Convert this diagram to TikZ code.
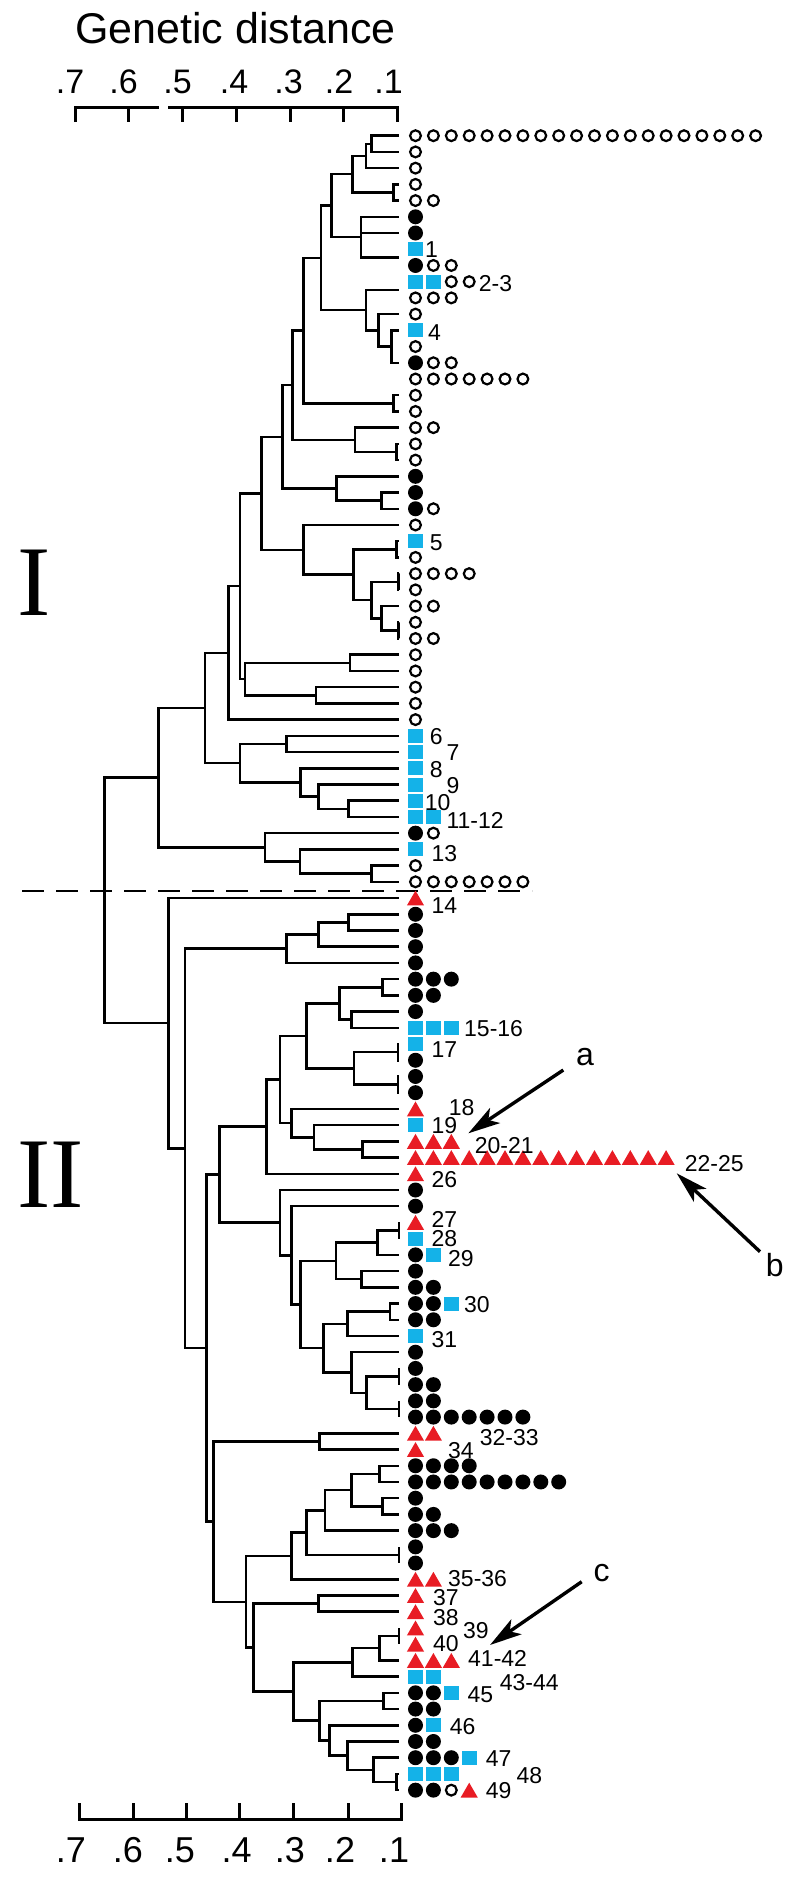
\documentclass[tikz,border=0pt]{standalone}
\usepackage{fontspec}
\setmainfont{Liberation Sans}
\newfontfamily\romanfont{Liberation Serif}
\usetikzlibrary{calc,shapes.geometric,arrows.meta}
\definecolor{tcyan}{RGB}{20,178,232}
\definecolor{tred}{RGB}{232,28,36}
\tikzset{
  tree/.style={line width=2.5pt},
  axisline/.style={line width=3pt},
  oc/.style={circle,draw=black,fill=white,line width=2.2pt,minimum size=10.8pt,inner sep=0pt},
  fc/.style={circle,fill=black,minimum size=15pt,inner sep=0pt},
  sq/.style={rectangle,fill=tcyan,minimum width=14.8pt,minimum height=14pt,inner sep=0pt},
  tr/.style={regular polygon,regular polygon sides=3,fill=tred,minimum size=19.8pt,inner sep=0pt,yshift=-2.45pt},
  lab/.style={anchor=west,inner sep=0pt,font=\fontsize{23}{23}\selectfont},
  letter/.style={inner sep=0pt,font=\fontsize{32}{32}\selectfont},
  ticklab/.style={anchor=base,inner sep=0pt,font=\fontsize{34}{34}\selectfont},
  arr/.style={line width=3.4pt,-{Stealth[length=32pt,width=18pt,inset=8pt]}}
}
\newcommand\dnode[4]{%
  \path let \p1=($(#3)!0.5!(#4)$) in (#2,\y1) coordinate (#1);
  \draw[tree] (#1) |- (#3);
  \draw[tree] (#1) |- (#4);}
\newcommand\symrow[2]{%
  \foreach \s [count=\k] in {#2}{%
    \node[\s] (s#1-\k) at ({415.5+(\k-1)*17.9},{135.7+(#1-1)*16.22}) {};}}
\begin{document}
\begin{tikzpicture}[x=1pt,y=-1pt]
\useasboundingbox[fill=white] (0,0) rectangle (800,1879);
% title and axes
\node[anchor=base west,inner sep=0pt,font=\fontsize{43}{43}\selectfont] (title) at (75,43) {Genetic distance};
\draw[axisline] (75,122) -- (75,107) -- (159,107);
\draw[axisline] (168,107) -- (397,107) -- (397,122);
\foreach \x in {128,182,236,290,343} \draw[axisline] (\x,107) -- (\x,122);
\foreach \x/\t [count=\i] in {70/.7,123.5/.6,177.5/.5,234/.4,288.5/.3,339/.2,388.5/.1}
  \node[ticklab] (tt\i) at (\x,93) {\t};
\draw[axisline] (79,1803) -- (79,1819) -- (401,1819) -- (401,1803);
\foreach \x in {133,186,239,293,348} \draw[axisline] (\x,1819) -- (\x,1803);
\foreach \x/\t [count=\i] in {71/.7,128/.6,180/.5,236.7/.4,290/.3,340/.2,394/.1}
  \node[ticklab,font=\fontsize{36}{36}\selectfont] (bt\i) at (\x,1862) {\t};
% cluster labels
\node[anchor=base west,inner sep=0pt,font=\romanfont\fontsize{100}{100}\selectfont] (cI) at (17,615) {I};
\node[anchor=base west,inner sep=0pt,font=\romanfont\fontsize{100}{100}\selectfont] (cII) at (17,1207) {II};
% tips
\foreach \r in {1,...,103} \coordinate (t\r) at (399,{135.7+(\r-1)*16.22});
\coordinate (h8) at (399,{135.7+7.5*16.22});
\coordinate (h10) at (399,{135.7+9.5*16.22});
% cluster I
\dnode{A1}{371.7}{t1}{t2}
\dnode{A2}{366}{A1}{t3}
\dnode{B1}{393.3}{t4}{t5}
\dnode{A3}{352.7}{A2}{B1}
\path let \p1=($(t6)!0.5!(h8)$) in (361,\y1) coordinate (C);
\draw[tree] (C) |- (t6); \draw[tree] (C) |- (t7); \draw[tree] (C) |- (h8);
\dnode{E}{331.7}{A3}{C}
\dnode{D1}{391.7}{t13}{t15}
\dnode{D2}{378.3}{t12}{D1}
\dnode{D}{366}{h10}{D2}
\dnode{F}{321}{E}{D}
\dnode{G1}{393.3}{t17}{t18}
\dnode{G}{303.3}{F}{G1}
\dnode{H0}{396.7}{t20}{t21}
\dnode{H1}{355}{t19}{H0}
\dnode{I}{292.3}{G}{H1}
\dnode{J1}{381.7}{t23}{t24}
\dnode{J2}{336.7}{t22}{J1}
\dnode{K}{282.7}{I}{J2}
\dnode{L1}{398.3}{t31}{t32}
\dnode{L2}{381.7}{t30}{L1}
\dnode{L0}{398.3}{t28}{t29}
\dnode{L3}{371.7}{L0}{L2}
\dnode{Lb}{396.7}{t26}{t27}
\dnode{L4}{353.3}{Lb}{L3}
\dnode{L5}{303.3}{t25}{L4}
\dnode{M}{261.7}{K}{L5}
\dnode{N1}{350}{t33}{t34}
\dnode{N2}{316}{t35}{t36}
\dnode{N3}{245}{N1}{N2}
\dnode{O}{240}{M}{N3}
\dnode{P}{228.3}{O}{t37}
\dnode{R1}{286.7}{t38}{t39}
\dnode{R2}{348.3}{t42}{t43}
\dnode{R3}{318.3}{t41}{R2}
\dnode{R4}{300.7}{t40}{R3}
\dnode{R5}{240}{R1}{R4}
\dnode{Q}{205}{P}{R5}
\dnode{T1}{371.7}{t46}{t47}
\dnode{T2}{300}{t45}{T1}
\dnode{T3}{265}{t44}{T2}
\dnode{S}{158.3}{Q}{T3}
% cluster II
\dnode{W1}{348.3}{t49}{t50}
\dnode{W2}{318.3}{W1}{t51}
\dnode{W3}{286.7}{W2}{t52}
\dnode{Y1}{382.7}{t53}{t54}
\dnode{Y2}{351.7}{t55}{t56}
\dnode{Y3}{339.3}{Y1}{Y2}
\dnode{Y4}{398}{t57}{t58}
\dnode{Y5}{398}{t59}{t60}
\dnode{Y6}{354}{Y4}{Y5}
\dnode{Y7}{306.7}{Y3}{Y6}
\dnode{X1}{362.7}{t63}{t64}
\dnode{X2}{314}{t62}{X1}
\dnode{X3}{291.7}{t61}{X2}
\dnode{Y8}{280}{Y7}{X3}
\dnode{Z0}{266.7}{Y8}{t65}
\dnode{Bk1}{399}{t68}{t69}
\dnode{Z2}{377.3}{Bk1}{t70}
\dnode{Z3}{361.7}{t71}{t72}
\dnode{Z4}{336}{Z2}{Z3}
\dnode{Bk2}{390}{t73}{t74}
\dnode{Z5}{347.3}{Bk2}{t75}
\dnode{AA1}{399}{t77}{t78}
\dnode{AA2}{399}{t79}{t80}
\dnode{AA3}{366.7}{AA1}{AA2}
\dnode{AA4}{351.7}{t76}{AA3}
\dnode{AA5}{323.3}{Z5}{AA4}
\dnode{Z6}{300.7}{Z4}{AA5}
\dnode{Z7}{291.7}{t67}{Z6}
\dnode{Z8}{280}{t66}{Z7}
\dnode{Z1}{219.3}{Z0}{Z8}
\dnode{BB1}{319.3}{t81}{t82}
\dnode{C1}{379.3}{t83}{t84}
\dnode{C2}{382.7}{t85}{t86}
\dnode{C3}{351.7}{C1}{C2}
\dnode{C4}{325}{C3}{t87}
\dnode{Bk3}{399}{t88}{t89}
\dnode{C5}{306.7}{C4}{Bk3}
\dnode{C6}{291.7}{C5}{t90}
\dnode{D9}{318.3}{t91}{t92}
\dnode{E1}{399}{t93}{t94}
\dnode{E2}{379.3}{E1}{t95}
\dnode{E3}{352.7}{E2}{t96}
\dnode{F1}{383.3}{t97}{t98}
\dnode{Bk4}{396.7}{t102}{t103}
\dnode{F2}{373.3}{t101}{Bk4}
\dnode{F3}{347.3}{t100}{F2}
\dnode{F4}{329.3}{t99}{F3}
\dnode{F5}{319.3}{F1}{F4}
\dnode{G1b}{293.3}{E3}{F5}
\dnode{G2}{253.3}{D9}{G1b}
\dnode{G3}{246}{C6}{G2}
\dnode{BB2}{213.3}{BB1}{G3}
\dnode{Xn}{206.7}{Z1}{BB2}
\dnode{W}{185}{W3}{Xn}
\dnode{V}{168.3}{t48}{W}
\dnode{U}{104.3}{S}{V}
% dashed separator
\coordinate (dl) at (22,891);
\coordinate (dr) at (532,891);
\draw[line width=2.3pt,dash pattern=on 22pt off 12pt] (dl) -- (dr);
% symbols
\symrow{1}{oc,oc,oc,oc,oc,oc,oc,oc,oc,oc,oc,oc,oc,oc,oc,oc,oc,oc,oc,oc}
\symrow{2}{oc}
\symrow{3}{oc}
\symrow{4}{oc}
\symrow{5}{oc,oc}
\symrow{6}{fc}
\symrow{7}{fc}
\symrow{8}{sq}
\symrow{9}{fc,oc,oc}
\symrow{10}{sq,sq,oc,oc}
\symrow{11}{oc,oc,oc}
\symrow{12}{oc}
\symrow{13}{sq}
\symrow{14}{oc}
\symrow{15}{fc,oc,oc}
\symrow{16}{oc,oc,oc,oc,oc,oc,oc}
\symrow{17}{oc}
\symrow{18}{oc}
\symrow{19}{oc,oc}
\symrow{20}{oc}
\symrow{21}{oc}
\symrow{22}{fc}
\symrow{23}{fc}
\symrow{24}{fc,oc}
\symrow{25}{oc}
\symrow{26}{sq}
\symrow{27}{oc}
\symrow{28}{oc,oc,oc,oc}
\symrow{29}{oc}
\symrow{30}{oc,oc}
\symrow{31}{oc}
\symrow{32}{oc,oc}
\foreach \r in {33,...,37} {\symrow{\r}{oc}}
\foreach \r in {38,...,42} {\symrow{\r}{sq}}
\symrow{43}{sq,sq}
\symrow{44}{fc,oc}
\symrow{45}{sq}
\symrow{46}{oc}
\symrow{47}{oc,oc,oc,oc,oc,oc,oc}
\symrow{48}{tr}
\foreach \r in {49,...,52} {\symrow{\r}{fc}}
\symrow{53}{fc,fc,fc}
\symrow{54}{fc,fc}
\symrow{55}{fc}
\symrow{56}{sq,sq,sq}
\symrow{57}{sq}
\foreach \r in {58,59,60} {\symrow{\r}{fc}}
\symrow{61}{tr}
\symrow{62}{sq}
\symrow{63}{tr,tr,tr}
\symrow{64}{tr,tr,tr,tr,tr,tr,tr,tr,tr,tr,tr,tr,tr,tr,tr}
\symrow{65}{tr}
\symrow{66}{fc}
\symrow{67}{fc}
\symrow{68}{tr}
\symrow{69}{sq}
\symrow{70}{fc,sq}
\symrow{71}{fc}
\symrow{72}{fc,fc}
\symrow{73}{fc,fc,sq}
\symrow{74}{fc,fc}
\symrow{75}{sq}
\symrow{76}{fc}
\symrow{77}{fc}
\symrow{78}{fc,fc}
\symrow{79}{fc,fc}
\symrow{80}{fc,fc,fc,fc,fc,fc,fc}
\symrow{81}{tr,tr}
\symrow{82}{tr}
\symrow{83}{fc,fc,fc,fc}
\symrow{84}{fc,fc,fc,fc,fc,fc,fc,fc,fc}
\symrow{85}{fc}
\symrow{86}{fc,fc}
\symrow{87}{fc,fc,fc}
\symrow{88}{fc}
\symrow{89}{fc}
\symrow{90}{tr,tr}
\foreach \r in {91,...,94} {\symrow{\r}{tr}}
\symrow{95}{tr,tr,tr}
\symrow{96}{sq,sq}
\symrow{97}{fc,fc,sq}
\symrow{98}{fc,fc}
\symrow{99}{fc,sq}
\symrow{100}{fc,fc}
\symrow{101}{fc,fc,fc,sq}
\symrow{102}{sq,sq,sq}
\symrow{103}{fc,fc,oc,tr}
% number labels
\foreach \x/\y/\t [count=\i] in {
  425/250/1, 478.7/283.3/2-3, 428/332.5/4, 429.7/543/5,
  429.7/736.7/6, 446.3/753/7, 429.7/770/8, 446.3/785.7/9, 424.7/802.5/10,
  446.3/820.4/11-12, 431.3/853.3/13, 431.3/905.5/14, 464/1029/15-16,
  431.3/1050/17, 448.7/1107.5/18, 431.3/1125.8/19, 474.7/1145.8/20-21,
  684.7/1164/22-25, 431.3/1180/26, 431.3/1219/27, 431.3/1239/28,
  448/1259/29, 464/1305/30, 431.3/1340/31, 479.7/1438/32-33, 448/1451/34,
  448/1579/35-36, 433/1598/37, 433/1618/38, 463/1630.5/39, 433/1644/40,
  468/1658.7/41-42, 499.7/1682.5/43-44, 467.3/1695/45, 449.7/1726.5/46,
  485.7/1759/47, 516.3/1775.5/48, 485.7/1790.5/49}
  \node[lab] (n\i) at (\x,\y) {\t};
% letters and arrows
\node[letter] (la) at (585,1057.5) {a};
\node[letter] (lb) at (774.7,1265) {b};
\node[letter] (lc) at (601.7,1573) {c};
\coordinate (aS) at (563.3,1070); \coordinate (aE) at (468.3,1133.3);
\coordinate (bS) at (760,1251.7); \coordinate (bE) at (676.7,1173.3);
\coordinate (cS) at (581.7,1581.7); \coordinate (cE) at (490,1645);
\draw[arr] (aS) -- (aE);
\draw[arr] (bS) -- (bE);
\draw[arr] (cS) -- (cE);
\end{tikzpicture}
\end{document}
